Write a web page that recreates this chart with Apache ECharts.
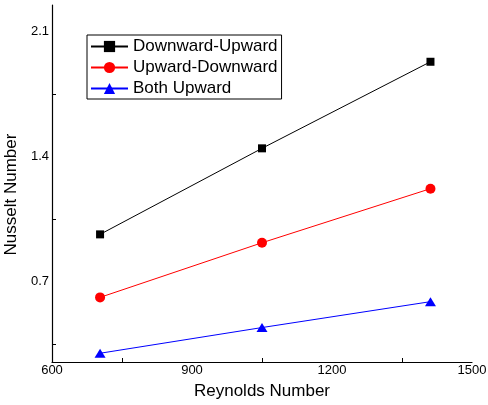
<!DOCTYPE html>
<html>
<head>
<meta charset="utf-8">
<script src="https://cdn.jsdelivr.net/npm/echarts@6/dist/echarts.min.js"></script>
<style>
html,body{margin:0;padding:0;background:#fff;}
#chart{width:488px;height:405px;}
</style>
</head>
<body>
<div id="chart"></div>
<script>
const reynolds = [703, 1050, 1411];
const downwardUpward = [0.965, 1.447, 1.932];
const upwardDownward = [0.612, 0.918, 1.221];
const bothUpward = [0.299, 0.443, 0.588];
const seriesNames = ['Downward-Upward', 'Upward-Downward', 'Both Upward'];
const xTickLabels = [600, 900, 1200, 1500];
const yTickLabels = [0.7, 1.4, 2.1];
const xMinorTicks = [750, 1050, 1350];
const yMinorTicks = [0.35, 1.05, 1.75];

const font = 'Liberation Sans, Arial, sans-serif';
function pairs(ys){ return reynolds.map((x,i)=>[x, ys[i]]); }

const chart = echarts.init(document.getElementById('chart'), null, {renderer:'canvas'});
chart.setOption({
  animation: false,
  backgroundColor: '#fff',
  textStyle: {fontFamily: font, color: '#000'},
  grid: {left: 52, right: 16, top: 5, bottom: 43, containLabel: false, outerBoundsMode: 'none'},
  legend: {
    orient: 'vertical',
    left: 87, top: 35,
    padding: [3, 4, 2, 3],
    itemGap: 4,
    itemWidth: 37,
    itemHeight: 14,
    borderColor: '#000',
    borderWidth: 1,
    borderRadius: 0,
    textStyle: {fontFamily: font, fontSize: 17, color: '#000'},
    data: seriesNames
  },
  xAxis: {
    type: 'value',
    min: 600, max: 1500, interval: 300,
    name: 'Reynolds Number',
    nameLocation: 'middle',
    nameGap: 21,
    nameTextStyle: {fontFamily: font, fontSize: 17, color: '#000'},
    axisLine: {show: true, onZero: false, lineStyle: {color: '#000', width: 1.2}},
    axisTick: {show: true, inside: true, length: 4, customValues: xMinorTicks, lineStyle: {color: '#000'}},
    axisLabel: {fontFamily: font, fontSize: 13, color: '#000', margin: 2, customValues: xTickLabels,
      formatter: v => String(v)},
    splitLine: {show: false}
  },
  yAxis: {
    type: 'value',
    min: 0.25, max: 2.25,
    name: 'Nusselt Number',
    nameLocation: 'middle',
    nameGap: 25,
    nameTextStyle: {fontFamily: font, fontSize: 17, color: '#000', padding: [0, 22, 0, 0]},
    axisLine: {show: true, onZero: false, lineStyle: {color: '#000', width: 1.2}},
    axisTick: {show: true, inside: true, length: 4, customValues: yMinorTicks, lineStyle: {color: '#000'}},
    axisLabel: {fontFamily: font, fontSize: 13, color: '#000', margin: 3, customValues: yTickLabels,
      formatter: v => String(v)},
    splitLine: {show: false}
  },
  series: [
    {name: seriesNames[0], type: 'line', data: pairs(downwardUpward), symbol: 'rect', symbolSize: 8,
     lineStyle: {color: '#000', width: 1}, itemStyle: {color: '#000'}},
    {name: seriesNames[1], type: 'line', data: pairs(upwardDownward), symbol: 'circle', symbolSize: 10,
     lineStyle: {color: '#ff0000', width: 1}, itemStyle: {color: '#ff0000'}},
    {name: seriesNames[2], type: 'line', data: pairs(bothUpward), symbol: 'triangle', symbolSize: [11, 9],
     lineStyle: {color: '#0000ff', width: 1}, itemStyle: {color: '#0000ff'}}
  ]
});
</script>
</body>
</html>
